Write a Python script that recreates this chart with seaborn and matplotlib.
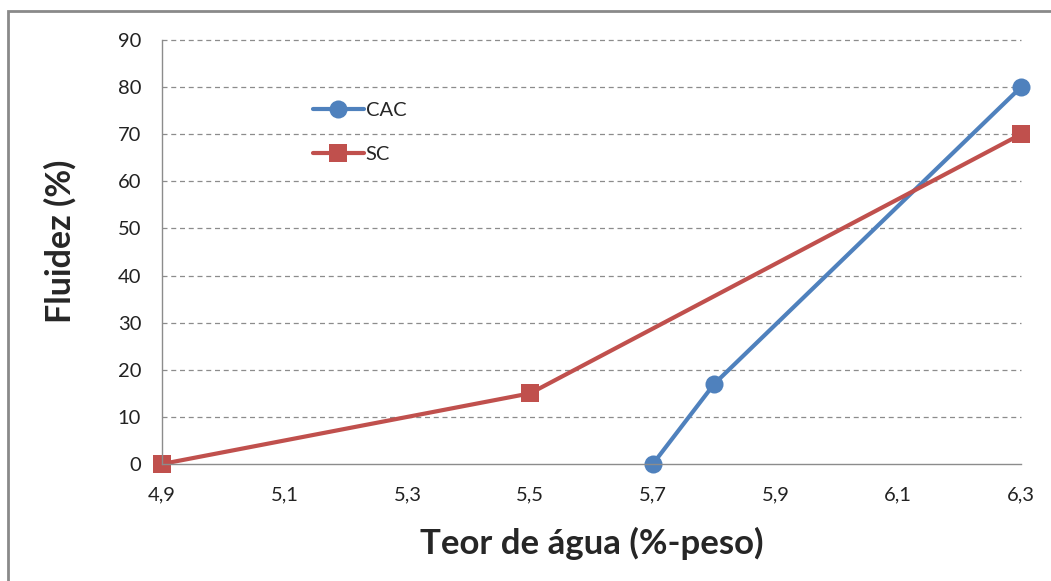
import matplotlib
matplotlib.use("Agg")
import matplotlib.pyplot as plt
import seaborn as sns
import pandas as pd
from matplotlib.patches import Rectangle

# Data
cac_x = [5.7, 5.8, 6.3]
cac_y = [0, 17, 80]
sc_x = [4.9, 5.5, 6.3]
sc_y = [0, 15, 70]
x_ticks = [4.9, 5.1, 5.3, 5.5, 5.7, 5.9, 6.1, 6.3]
x_tick_labels = ["4,9", "5,1", "5,3", "5,5", "5,7", "5,9", "6,1", "6,3"]
y_ticks = [0, 10, 20, 30, 40, 50, 60, 70, 80, 90]

df = pd.DataFrame({
    "x": cac_x + sc_x,
    "y": cac_y + sc_y,
    "serie": ["CAC"] * len(cac_x) + ["SC"] * len(sc_x),
})

sns.set_style("white")
plt.rcParams["font.family"] = ["Lato", "DejaVu Sans"]

fig = plt.figure(figsize=(10.51, 5.81), dpi=100)
ax = fig.add_axes([162/1051, 1-464/581, (1021-162)/1051, (464-40)/581])

palette = {"CAC": "#4F81BD", "SC": "#C0504D"}
sns.lineplot(data=df, x="x", y="y", hue="serie", style="serie",
             markers={"CAC": "o", "SC": "s"}, dashes=False,
             palette=palette, linewidth=3, markersize=13, markeredgewidth=0,
             ax=ax, sort=False)

ax.set_xlim(4.9, 6.3)
ax.set_ylim(0, 90)
ax.set_xticks(x_ticks)
ax.set_xticklabels(x_tick_labels)
ax.set_yticks(y_ticks)
for yv in y_ticks[1:]:
    ax.axhline(yv, color="#8c8c8c", linestyle=(0, (4, 3)), linewidth=0.9, zorder=0)

for s in ["top", "right"]:
    ax.spines[s].set_visible(False)
for s in ["left", "bottom"]:
    ax.spines[s].set_color("#8c8c8c")
    ax.spines[s].set_linewidth(1.0)
ax.tick_params(axis="both", direction="out", length=5, width=1, color="#8c8c8c",
               labelsize=14.5, labelcolor="#222222")
ax.tick_params(axis="x", pad=11)
ax.tick_params(axis="y", pad=10)

ax.set_xlabel("Teor de água (%-peso)", fontsize=25, fontweight="bold")
ax.set_ylabel("Fluidez (%)", fontsize=24.5, fontweight="bold")
ax.xaxis.set_label_coords(0.5, -0.148)
ax.yaxis.set_label_coords(-0.100, 0.526)

for ln in ax.lines:
    ln.set_clip_on(False)

leg = ax.legend(loc="center left", bbox_to_anchor=(0.176, 0.782), frameon=False,
                fontsize=14.5, handlelength=2.5, handletextpad=0.1, labelspacing=1.3,
                borderpad=0, borderaxespad=0)
for h in leg.legend_handles:
    h.set_linewidth(3)
    h.set_markersize(13)

fig.patches.append(Rectangle((8/1051, -0.1), 1.2, 1.1 - 11/581, transform=fig.transFigure,
                             fill=False, edgecolor="#8a8a8a", linewidth=2, figure=fig))

fig.savefig("out.png", dpi=100)
